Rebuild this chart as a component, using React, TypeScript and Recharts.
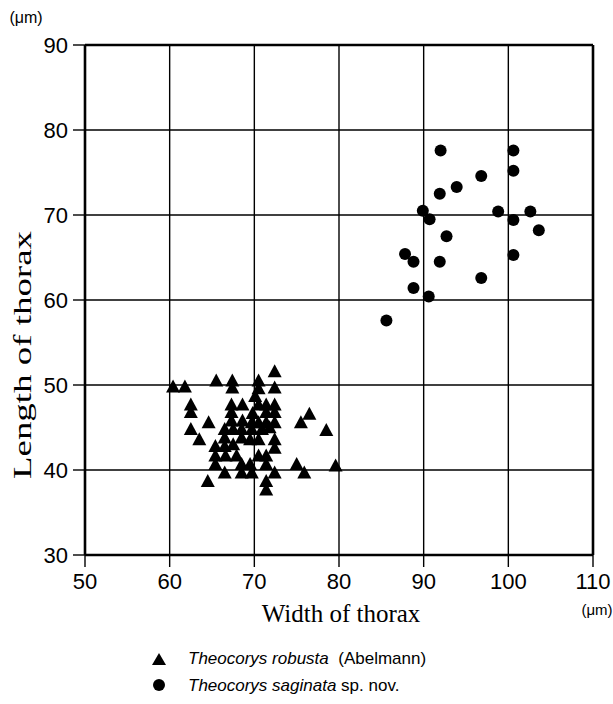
import { ScatterChart, Scatter, XAxis, YAxis, CartesianGrid, ReferenceLine } from 'recharts'

// Theocorys robusta (triangles)
const robustaWidth = [
  72.4, 60.4, 61.8, 65.5, 67.4, 67.4, 70.5, 70.5, 72.4, 70.1,
  62.5, 62.5, 64.6, 62.5, 63.5, 67.3, 67.3, 68.6, 70.5, 71.4,
  72.4, 71.4, 72.4, 67.3, 68.6, 69.7, 70.5, 71.4, 72.4, 66.5,
  67.5, 68.5, 69.7, 70.9, 71.8, 66.5, 67.5, 65.4, 66.5, 69.5,
  70.5, 72.4, 72.4, 65.4, 66.6, 70.5, 71.4, 65.4, 68.5, 69.5,
  71.4, 66.5, 68.5, 69.7, 72.4, 64.5, 71.4, 71.4, 76.5, 75.5,
  78.5, 75.0, 75.9, 79.6, 69.8, 68.5, 67.9,
]
const robustaLength = [
  51.5, 49.7, 49.7, 50.4, 50.4, 49.6, 50.4, 49.5, 49.6, 48.6,
  47.6, 46.7, 45.5, 44.7, 43.5, 47.6, 46.7, 47.6, 47.6, 47.6,
  47.6, 46.7, 46.7, 45.7, 45.7, 45.5, 45.5, 45.5, 45.5, 44.7,
  44.7, 44.7, 44.7, 44.7, 44.9, 43.7, 42.9, 42.7, 42.7, 43.5,
  43.5, 43.5, 42.5, 41.6, 41.6, 41.6, 41.6, 40.6, 40.6, 40.6,
  40.6, 39.6, 39.6, 39.6, 39.6, 38.6, 38.6, 37.6, 46.5, 45.5,
  44.6, 40.6, 39.6, 40.4, 46.6, 43.7, 41.6,
]

// Theocorys saginata (circles)
const saginataWidth = [
  92.0, 100.6, 100.6, 96.8, 93.9, 91.9, 89.9, 90.7, 98.8, 100.6, 102.6,
  103.6, 92.7, 87.8, 88.8, 91.9, 100.6, 96.8, 88.8, 90.6, 85.6,
]
const saginataLength = [
  77.6, 77.6, 75.2, 74.6, 73.3, 72.5, 70.5, 69.5, 70.4, 69.4, 70.4,
  68.2, 67.5, 65.4, 64.5, 64.5, 65.3, 62.6, 61.4, 60.4, 57.6,
]

const xTicks = [50, 60, 70, 80, 90, 100, 110]
const yTicks = [30, 40, 50, 60, 70, 80, 90]

const robusta = robustaWidth.map((w, i) => ({ w, l: robustaLength[i] }))
const saginata = saginataWidth.map((w, i) => ({ w, l: saginataLength[i] }))

const sans = 'Liberation Sans, Arial, sans-serif'
const serif = 'Liberation Serif, Times New Roman, serif'

const Triangle = (props: any) => {
  const { cx, cy } = props
  return <polygon points={`${cx},${cy - 8} ${cx - 7},${cy + 5} ${cx + 7},${cy + 5}`} fill="#000" />
}

const Dot = (props: any) => {
  const { cx, cy } = props
  return <circle cx={cx} cy={cy} r={6} fill="#000" />
}

const YLabel = () => (
  <text
    x={22}
    y={355}
    transform="rotate(-90 22 355)"
    textAnchor="middle"
    dominantBaseline="central"
    fontFamily={serif}
    fontSize={25}
    textLength={248}
    lengthAdjust="spacingAndGlyphs"
    fill="#000"
  >
    Length of thorax
  </text>
)

const XLabel = () => (
  <text x={341} y={613} textAnchor="middle" dominantBaseline="central" fontFamily={serif} fontSize={25} fill="#000">
    Width of thorax
  </text>
)

export default function App() {
  return (
    <div style={{ position: 'absolute', left: 0, top: 0, width: 613, height: 704, background: '#fff' }}>
      <ScatterChart width={613} height={704} margin={{ top: 45, right: 20, bottom: 99, left: 30 }}>
        <CartesianGrid stroke="#000" strokeWidth={1.4} />
        <XAxis
          type="number"
          dataKey="w"
          domain={[50, 110]}
          ticks={xTicks}
          allowDataOverflow
          height={50}
          axisLine={{ stroke: '#000', strokeWidth: 2.6 }}
          tickLine={{ stroke: '#000', strokeWidth: 1.4 }}
          tickSize={12}
          tickMargin={6}
          tick={{ fill: '#000', fontSize: 22, fontFamily: sans }}
          label={<XLabel />}
        />
        <YAxis
          type="number"
          dataKey="l"
          domain={[30, 90]}
          ticks={yTicks}
          allowDataOverflow
          width={55}
          axisLine={{ stroke: '#000', strokeWidth: 2.6 }}
          tickLine={{ stroke: '#000', strokeWidth: 1.4 }}
          tickSize={12}
          tickMargin={5}
          tick={{ fill: '#000', fontSize: 22, fontFamily: sans }}
          label={<YLabel />}
        />
        <ReferenceLine y={90} stroke="#000" strokeWidth={2.6} />
        <ReferenceLine x={110} stroke="#000" strokeWidth={2.6} />
        <Scatter name="robusta" data={robusta} shape={Triangle} isAnimationActive={false} />
        <Scatter name="saginata" data={saginata} shape={Dot} isAnimationActive={false} />
        <text x={26} y={17} textAnchor="middle" dominantBaseline="central" fontFamily={sans} fontSize={16} fill="#000">(μm)</text>
        <text x={597} y={609} textAnchor="middle" dominantBaseline="central" fontFamily={sans} fontSize={15} fill="#000">(μm)</text>
      </ScatterChart>
      <div style={{ position: 'absolute', left: 150, top: 645, fontFamily: sans, fontSize: 17, color: '#000', lineHeight: '27px' }}>
        <div style={{ display: 'flex', alignItems: 'center' }}>
          <svg width={38} height={16}>
            <polygon points="9,2 2,14 16,14" fill="#000" />
          </svg>
          <span><i>Theocorys robusta</i>&nbsp; (Abelmann)</span>
        </div>
        <div style={{ display: 'flex', alignItems: 'center' }}>
          <svg width={38} height={16}>
            <circle cx={9} cy={7} r={6} fill="#000" />
          </svg>
          <span><i>Theocorys saginata</i> sp. nov.</span>
        </div>
      </div>
    </div>
  )
}
